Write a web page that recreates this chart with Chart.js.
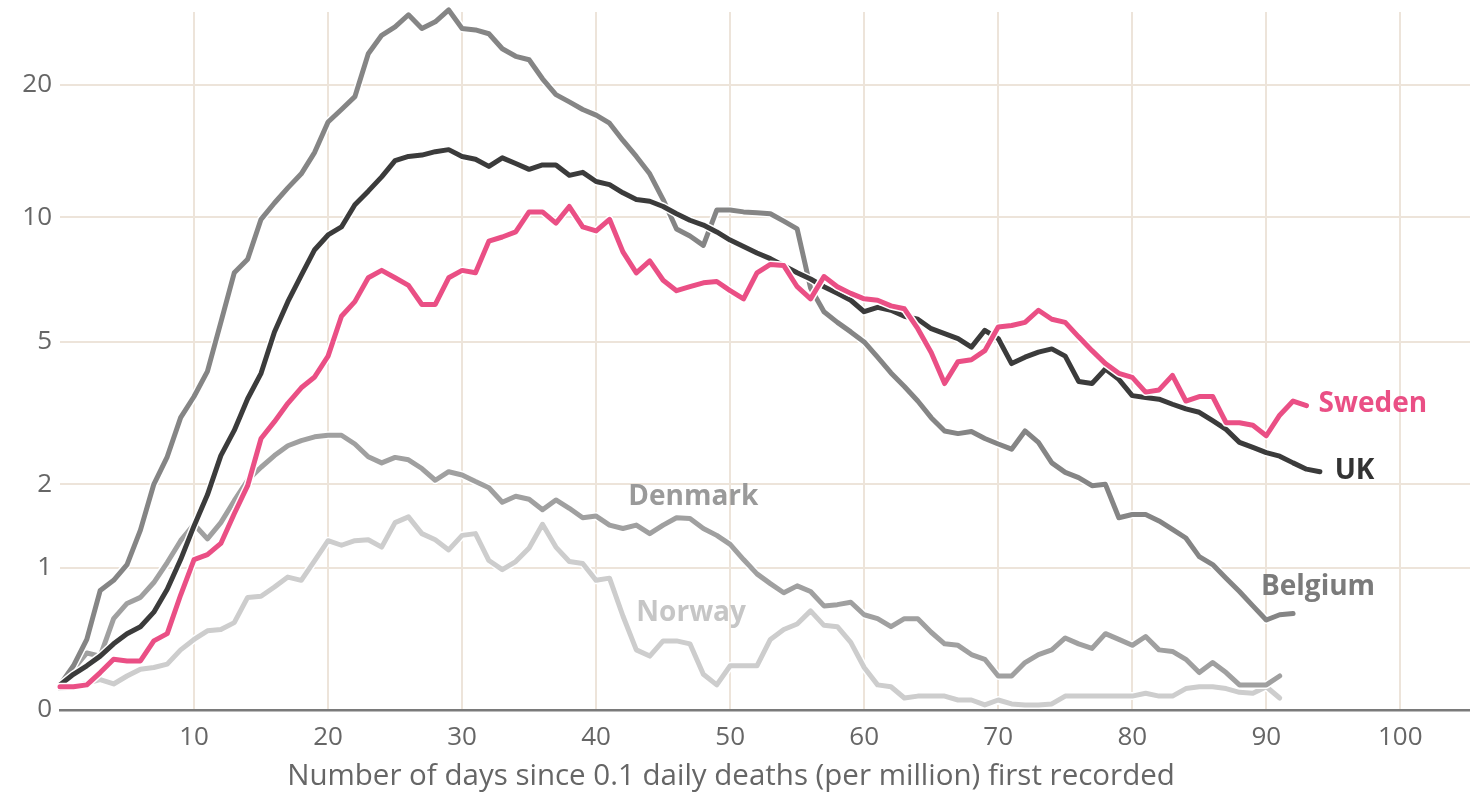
<!DOCTYPE html>
<html>
<head>
<meta charset="utf-8">
<script src="https://cdn.jsdelivr.net/npm/chart.js@4.4.1/dist/chart.umd.min.js"></script>
<style>
  html, body { margin: 0; padding: 0; background: #fff; }
  #wrap { width: 1470px; height: 795px; }
</style>
</head>
<body>
<div id="wrap"><canvas id="deaths" width="1470" height="795"></canvas></div>
<script>
// Daily deaths per million (7-day average), indexed by days since 0.1 first recorded
const SWEDEN = [
  0.12, 0.12, 0.13, 0.2, 0.28, 0.27, 0.27, 0.4, 0.45, 0.75,
  1.08, 1.13, 1.25, 1.6, 1.98, 2.75, 3.07, 3.45, 3.8, 4.06,
  4.6, 5.8, 6.3, 7.2, 7.5, 7.2, 6.9, 6.2, 6.2, 7.2,
  7.5, 7.4, 8.8, 9.0, 9.25, 10.3, 10.3, 9.7, 10.6, 9.5,
  9.3, 9.9, 8.3, 7.4, 7.9, 7.1, 6.7, 6.85, 7.0, 7.05,
  6.7, 6.4, 7.4, 7.75, 7.7, 6.85, 6.4, 7.25, 6.85, 6.6,
  6.4, 6.35, 6.15, 6.05, 5.4, 4.7, 3.9, 4.45, 4.5, 4.75,
  5.45, 5.5, 5.6, 6.0, 5.7, 5.6, 5.15, 4.75, 4.4, 4.15,
  4.05, 3.7, 3.75, 4.1, 3.5, 3.6, 3.6, 3.05, 3.05, 3.0,
  2.8, 3.2, 3.5, 3.4
];
const UK = [
  0.13, 0.19, 0.24, 0.3, 0.38, 0.45, 0.5, 0.61, 0.8, 1.08,
  1.45, 1.85, 2.45, 2.9, 3.55, 4.15, 5.3, 6.3, 7.3, 8.4,
  9.1, 9.5, 10.7, 11.5, 12.4, 13.5, 13.8, 13.9, 14.15, 14.3,
  13.8, 13.6, 13.1, 13.7, 13.3, 12.9, 13.2, 13.2, 12.5, 12.7,
  12.1, 11.9, 11.4, 11.0, 10.9, 10.6, 10.2, 9.85, 9.6, 9.25,
  8.85, 8.55, 8.25, 8.0, 7.7, 7.4, 7.15, 6.85, 6.6, 6.35,
  5.95, 6.1, 6.0, 5.8, 5.7, 5.4, 5.25, 5.1, 4.85, 5.35,
  5.1, 4.4, 4.57, 4.71, 4.8, 4.6, 3.95, 3.9, 4.26, 4.0,
  3.62, 3.58, 3.54, 3.43, 3.33, 3.26, 3.09, 2.92, 2.68, 2.59,
  2.5, 2.44, 2.33, 2.23, 2.19
];
const BELGIUM = [
  0.13, 0.24, 0.41, 0.79, 0.88, 1.03, 1.4, 2.0, 2.43, 3.15,
  3.6, 4.2, 5.6, 7.4, 7.97, 9.9, 10.8, 11.7, 12.6, 14.1,
  16.5, 17.6, 18.8, 23.4, 25.7, 26.8, 28.5, 26.6, 27.5, 29.2,
  26.6, 26.4, 25.9, 24.0, 23.1, 22.7, 20.6, 19.0, 18.3, 17.6,
  17.1, 16.4, 15.0, 13.8, 12.6, 11.0, 9.4, 9.05, 8.6, 10.4,
  10.4, 10.3, 10.25, 10.2, 9.8, 9.4, 6.8, 5.95, 5.6, 5.3,
  5.0, 4.57, 4.16, 3.83, 3.5, 3.15, 2.89, 2.84, 2.88, 2.75,
  2.65, 2.56, 2.89, 2.68, 2.33, 2.18, 2.1, 1.98, 2.0, 1.55,
  1.59, 1.59, 1.51, 1.41, 1.31, 1.11, 1.03, 0.9, 0.78, 0.66,
  0.55, 0.59, 0.6
];
const DENMARK = [
  0.13, 0.22, 0.32, 0.3, 0.56, 0.68, 0.73, 0.86, 1.05, 1.28,
  1.47, 1.3, 1.49, 1.77, 2.06, 2.26, 2.45, 2.62, 2.71, 2.78,
  2.81, 2.81, 2.65, 2.43, 2.33, 2.42, 2.38, 2.24, 2.06, 2.19,
  2.14, 2.04, 1.95, 1.75, 1.83, 1.79, 1.65, 1.78, 1.67, 1.55,
  1.57, 1.46, 1.42, 1.46, 1.36, 1.46, 1.55, 1.54, 1.42, 1.34,
  1.24, 1.08, 0.94, 0.85, 0.77, 0.83, 0.78, 0.66, 0.67, 0.69,
  0.59, 0.56, 0.5, 0.56, 0.56, 0.46, 0.38, 0.37, 0.31, 0.28,
  0.18, 0.18, 0.26, 0.31, 0.34, 0.42, 0.38, 0.35, 0.45, 0.41,
  0.37, 0.43, 0.34, 0.33, 0.28, 0.2, 0.26, 0.2, 0.13, 0.13,
  0.13, 0.18
];
const NORWAY = [
  0.11, 0.12, 0.14, 0.16, 0.135, 0.18, 0.22, 0.23, 0.25, 0.34,
  0.41, 0.47, 0.48, 0.53, 0.73, 0.74, 0.82, 0.91, 0.88, 1.07,
  1.28, 1.23, 1.28, 1.29, 1.21, 1.49, 1.56, 1.36, 1.29, 1.18,
  1.34, 1.36, 1.07, 0.98, 1.06, 1.2, 1.47, 1.21, 1.06, 1.04,
  0.88, 0.9, 0.58, 0.34, 0.3, 0.4, 0.4, 0.38, 0.19, 0.13,
  0.24, 0.24, 0.24, 0.41, 0.48, 0.52, 0.62, 0.51, 0.5, 0.39,
  0.23, 0.13, 0.12, 0.06, 0.07, 0.07, 0.07, 0.05, 0.05, 0.025,
  0.05, 0.03, 0.025, 0.025, 0.03, 0.07, 0.07, 0.07, 0.07, 0.07,
  0.07, 0.085, 0.07, 0.07, 0.11, 0.12, 0.12, 0.11, 0.09, 0.085,
  0.12, 0.06
];

const Y_TICKS = [0, 1, 2, 5, 10, 20];
const X_TICKS = [10, 20, 30, 40, 50, 60, 70, 80, 90, 100];
const X_MAX = 105.2;
const Y_MAX = 28.9;
const X_TITLE = 'Number of days since 0.1 daily deaths (per million) first recorded';

const FONT = '"Open Sans", Lato, sans-serif';
const GRID = '#ede4da';

// y axis is log10(1 + v) so that zero can sit on the baseline
const toAxis = (v) => Math.log10(1 + v);
const fromAxis = (t) => Math.pow(10, t) - 1;

const SERIES = [
  { name: 'Sweden', values: SWEDEN, color: '#ea4f85', text: '#ea4f85', at: [93.9, 3.43] },
  { name: 'UK', values: UK, color: '#3b3b3b', text: '#333333', at: [95.1, 2.2] },
  { name: 'Belgium', values: BELGIUM, color: '#858585', text: '#7b7b7b', at: [89.6, 0.82] },
  { name: 'Denmark', values: DENMARK, color: '#a0a0a0', text: '#9a9a9a', at: [42.4, 1.82] },
  { name: 'Norway', values: NORWAY, color: '#cdcdcd', text: '#c6c6c6', at: [43.0, 0.6] },
];

const points = (arr) => arr.map((v, day) => ({ x: day, y: toAxis(v) }));

// each line sits on a slightly wider white line so crossings get a gap
const datasets = [];
SERIES.forEach((s) => {
  const line = {
    data: points(s.values),
    borderJoinStyle: 'round',
    borderCapStyle: 'round',
    pointRadius: 0,
    tension: 0,
    clip: false,
  };
  datasets.push({ ...line, label: s.name, borderColor: s.color, borderWidth: 5 });
  datasets.push({ ...line, label: s.name + ' outline', borderColor: '#ffffff', borderWidth: 8 });
});

// country names next to their lines, plus the x title centred on the whole canvas
const annotations = {
  id: 'annotations',
  afterDatasetsDraw(chart) {
    const { ctx, scales } = chart;
    ctx.save();
    ctx.font = 'bold 28px ' + FONT;
    ctx.textAlign = 'left';
    ctx.textBaseline = 'middle';
    SERIES.forEach((s) => {
      ctx.fillStyle = s.text;
      ctx.fillText(s.name, scales.x.getPixelForValue(s.at[0]), scales.y.getPixelForValue(toAxis(s.at[1])));
    });
    ctx.font = '29.5px ' + FONT;
    ctx.fillStyle = '#666666';
    ctx.textAlign = 'center';
    ctx.fillText(X_TITLE, chart.width / 2 - 4, scales.x.bottom - 18);
    ctx.restore();
  },
};

new Chart(document.getElementById('deaths'), {
  type: 'line',
  data: { datasets },
  options: {
    responsive: false,
    devicePixelRatio: 1,
    animation: false,
    layout: { padding: { top: 12, left: 0, right: 0, bottom: 0 } },
    plugins: {
      legend: { display: false },
      tooltip: { enabled: false },
    },
    scales: {
      x: {
        type: 'linear',
        min: 0,
        max: X_MAX,
        afterBuildTicks: (scale) => { scale.ticks = X_TICKS.map((v) => ({ value: v })); },
        afterFit: (scale) => { scale.height = 85; },
        grid: { color: GRID, lineWidth: 2, drawTicks: false },
        border: { display: true, color: '#7a7a7a', width: 2.5 },
        ticks: {
          color: '#666666',
          font: { family: FONT, size: 26 },
          padding: 12,
          maxRotation: 0,
        },
      },
      y: {
        type: 'linear',
        min: 0,
        max: toAxis(Y_MAX),
        afterBuildTicks: (scale) => { scale.ticks = Y_TICKS.map((v) => ({ value: toAxis(v) })); },
        afterFit: (scale) => {
          scale.width = 60;
          scale.paddingTop = 0;
          scale.paddingBottom = 0;
        },
        grid: { color: (c) => (c.tick && c.tick.value === 0 ? 'rgba(0,0,0,0)' : GRID), lineWidth: 2, drawTicks: false },
        border: { display: false },
        ticks: {
          color: '#666666',
          font: { family: FONT, size: 26 },
          padding: 8,
          callback: (v) => String(Math.round(fromAxis(v))),
        },
      },
    },
  },
  plugins: [annotations],
});
</script>
</body>
</html>
